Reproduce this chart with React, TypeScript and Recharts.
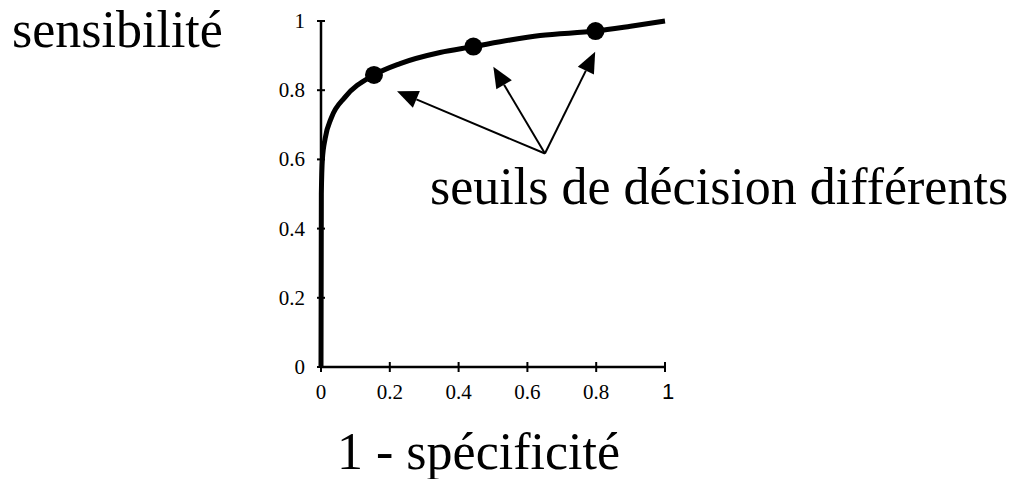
import { ComposedChart, Line, Scatter, XAxis, YAxis, ReferenceLine, Customized } from 'recharts';

// courbe ROC
const rocFpr = [0, 0.001, 0.004, 0.012, 0.03, 0.07, 0.154, 0.23, 0.346, 0.443, 0.55, 0.637, 0.798, 0.9, 1];
const rocTpr = [0, 0.5, 0.6, 0.66, 0.72, 0.78, 0.844, 0.877, 0.909, 0.926, 0.945, 0.958, 0.971, 0.985, 1];

// seuils de décision marqués
const seuilFpr = [0.154, 0.443, 0.798];
const seuilTpr = [0.844, 0.926, 0.971];

// flèches : départ commun, pointes
const arrowFrom = { x: 0.651, y: 0.617 };
const arrowTipX = [0.221, 0.501, 0.797];
const arrowTipY = [0.797, 0.868, 0.911];

const ticks = [0, 0.2, 0.4, 0.6, 0.8, 1];

const rocData = rocFpr.map((x, i) => ({ x, y: rocTpr[i] }));
const seuilData = seuilFpr.map((x, i) => ({ x, y: seuilTpr[i] }));

const SERIF = '"Liberation Serif", "Times New Roman", serif';
const SANS = '"Liberation Sans", Arial, sans-serif';

function YTick(props: any) {
  const { x, y, payload } = props;
  const ax = x + 16;
  return (
    <g>
      <line x1={ax - 4} x2={ax + 4} y1={y} y2={y} stroke="#000" strokeWidth={2} />
      <text x={x} y={y + 7} textAnchor="end" fontFamily={SERIF} fontSize={21} fill="#000">
        {String(payload.value)}
      </text>
    </g>
  );
}

function XTick(props: any) {
  const { x, y, payload } = props;
  const last = payload.value === 1;
  return (
    <g>
      <line x1={x} x2={x} y1={y - 5} y2={y + 5} stroke="#000" strokeWidth={2} />
      <text
        x={x + (last ? 3 : 0)}
        y={y + 32}
        textAnchor="middle"
        fontFamily={last ? SANS : SERIF}
        fontSize={last ? 22 : 21}
        fill="#000"
      >
        {String(payload.value)}
      </text>
    </g>
  );
}

function Arrow(props: any) {
  const { x1, y1, x2, y2 } = props;
  const dx = x2 - x1;
  const dy = y2 - y1;
  const len = Math.hypot(dx, dy) || 1;
  const ux = dx / len;
  const uy = dy / len;
  const hl = 21;
  const hw = 9;
  const bx = x2 - ux * hl;
  const by = y2 - uy * hl;
  return (
    <g>
      <line x1={x1} y1={y1} x2={bx} y2={by} stroke="#000" strokeWidth={2} />
      <polygon
        points={`${x2},${y2} ${bx - uy * hw},${by + ux * hw} ${bx + uy * hw},${by - ux * hw}`}
        fill="#000"
      />
    </g>
  );
}

function Titles() {
  return (
    <g fontFamily={SERIF} fontSize={52} fill="#000">
      <text x={12} y={47}>sensibilité</text>
      <text x={430} y={204}>seuils de décision différents</text>
      <text x={337} y={469}>1 - spécificité</text>
    </g>
  );
}

export default function App() {
  return (
    <div style={{ position: 'absolute', left: 0, top: 0, width: 1026, height: 479, background: '#fff' }}>
      <ComposedChart width={1026} height={479} margin={{ top: 21, right: 361, bottom: 111, left: 320 }}>
        <XAxis
          type="number"
          dataKey="x"
          domain={[0, 1]}
          ticks={ticks}
          height={1}
          tickSize={0}
          tickMargin={0}
          tickLine={false}
          axisLine={{ stroke: '#000', strokeWidth: 2.5 }}
          tick={<XTick />}
        />
        <YAxis
          type="number"
          dataKey="y"
          domain={[0, 1]}
          ticks={ticks}
          width={1}
          tickSize={0}
          tickMargin={16}
          tickLine={false}
          axisLine={{ stroke: '#000', strokeWidth: 2.5 }}
          tick={<YTick />}
        />
        <Line
          data={rocData}
          dataKey="y"
          type="monotone"
          stroke="#000"
          strokeWidth={5}
          dot={false}
          activeDot={false}
          isAnimationActive={false}
        />
        <Scatter
          data={seuilData}
          dataKey="y"
          fill="#000"
          isAnimationActive={false}
          shape={(p: any) => <circle cx={p.cx} cy={p.cy} r={9} fill="#000" />}
        />
        {arrowTipX.map((tx, i) => (
          <ReferenceLine
            key={i}
            segment={[arrowFrom, { x: tx, y: arrowTipY[i] }]}
            stroke="#000"
            ifOverflow="visible"
            shape={(p: any) => <Arrow {...p} />}
          />
        ))}
        <Customized component={Titles} />
      </ComposedChart>
    </div>
  );
}
